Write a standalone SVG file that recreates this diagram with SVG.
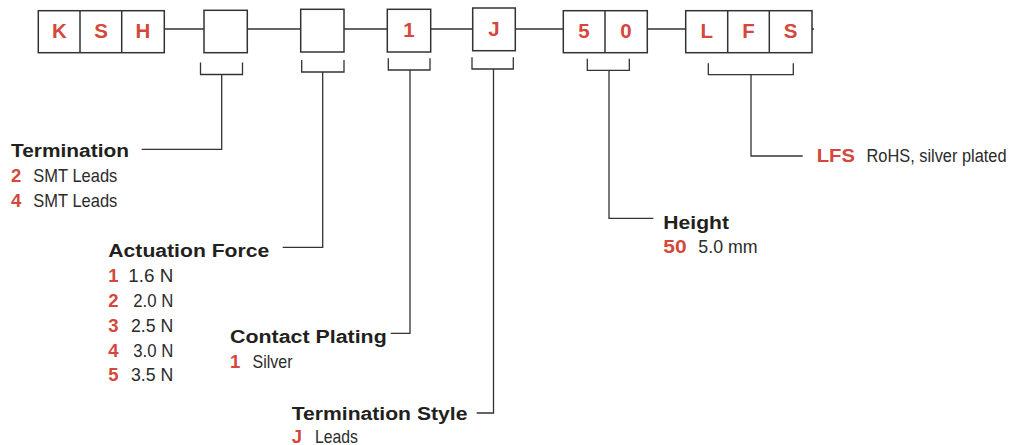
<svg xmlns="http://www.w3.org/2000/svg" width="1010" height="445" viewBox="0 0 1010 445">
<style>
.box{fill:#fff;stroke:#333;stroke-width:1.5}
.div{stroke:#333;stroke-width:1.5}
.ln{fill:none;stroke:#333;stroke-width:1.3}
.cl{font-family:"Liberation Sans",Arial,sans-serif;font-weight:bold;font-size:20.5px;fill:#d4483b;text-anchor:middle}
.h{font-family:"Liberation Sans",Arial,sans-serif;font-weight:bold;font-size:18px;fill:#231f20}
.r{font-family:"Liberation Sans",Arial,sans-serif;font-weight:bold;font-size:18.5px;fill:#d4483b}
.t{font-family:"Liberation Sans",Arial,sans-serif;font-size:19px;fill:#2b2b2b}
</style>
<rect width="1010" height="445" fill="#fff"/>
<g id="connectors">
<path class="ln" d="M164,29H204M247,29H301M344,29H387M431,29H473M515,29H563M647,29H686M812,29H814"/>
<path class="ln" d="M200.5,62.5V74.5H242.5V62.5M221.7,74.5V149.3H141.7"/>
<path class="ln" d="M301.7,60V72H344V60M322.7,72V247.3H282.7"/>
<path class="ln" d="M388.3,58.3V70H430V58.3M410,70V333.3H390.7"/>
<path class="ln" d="M472,57.3V69H513.3V57.3M493.5,69V413H476.7"/>
<path class="ln" d="M587.3,58.7V70.3H629.3V58.7M609,70.3V218.3H653.3"/>
<path class="ln" d="M708.3,63.3V74.7H793.3V63.3M751,74.7V156H802.7"/>
</g>
<g id="box-ksh">
<rect class="box" x="38.3" y="10.7" width="126" height="42"/>
<line class="div" x1="80" y1="10.7" x2="80" y2="52.7"/>
<line class="div" x1="121.7" y1="10.7" x2="121.7" y2="52.7"/>
<text class="cl" x="59.5" y="37.5">K</text>
<text class="cl" x="101" y="37.5">S</text>
<text class="cl" x="143" y="37.5">H</text>
</g>
<g id="box-termination">
<rect class="box" x="204" y="10.3" width="43.3" height="42.4"/>
</g>
<g id="box-force">
<rect class="box" x="300.7" y="9.3" width="43.3" height="42.7"/>
</g>
<g id="box-plating">
<rect class="box" x="387.3" y="9.3" width="43.4" height="42.7"/>
<text class="cl" x="409" y="37">1</text>
</g>
<g id="box-style">
<rect class="box" x="472.7" y="8" width="42.6" height="42.7"/>
<text class="cl" x="494" y="36">J</text>
</g>
<g id="box-height">
<rect class="box" x="563.3" y="10.7" width="84" height="42"/>
<line class="div" x1="605" y1="10.7" x2="605" y2="52.7"/>
<text class="cl" x="584" y="37.5">5</text>
<text class="cl" x="626" y="37.5">0</text>
</g>
<g id="box-lfs">
<rect class="box" x="685.7" y="10.7" width="126.3" height="42"/>
<line class="div" x1="727.7" y1="10.7" x2="727.7" y2="52.7"/>
<line class="div" x1="769.3" y1="10.7" x2="769.3" y2="52.7"/>
<text class="cl" x="706.7" y="37.5">L</text>
<text class="cl" x="748.5" y="37.5">F</text>
<text class="cl" x="790.7" y="37.5">S</text>
</g>
<g id="label-termination">
<text class="h" x="11" y="157.3" textLength="118" lengthAdjust="spacingAndGlyphs">Termination</text>
<text class="r" x="11" y="182.2">2</text><text class="t" x="33.3" y="182.2" textLength="84" lengthAdjust="spacingAndGlyphs">SMT Leads</text>
<text class="r" x="11" y="207">4</text><text class="t" x="33.3" y="207" textLength="84" lengthAdjust="spacingAndGlyphs">SMT Leads</text>
</g>
<g id="label-force">
<text class="h" x="108.3" y="256.7" textLength="161" lengthAdjust="spacingAndGlyphs">Actuation Force</text>
<text class="r" x="108.3" y="281.7">1</text><text class="t" x="128.3" y="281.7" textLength="45" lengthAdjust="spacingAndGlyphs">1.6 N</text>
<text class="r" x="108.3" y="306.7">2</text><text class="t" x="133.3" y="306.7" textLength="40" lengthAdjust="spacingAndGlyphs">2.0 N</text>
<text class="r" x="108.3" y="331.7">3</text><text class="t" x="131" y="331.7" textLength="42.3" lengthAdjust="spacingAndGlyphs">2.5 N</text>
<text class="r" x="108.3" y="356.7">4</text><text class="t" x="133.3" y="356.7" textLength="40" lengthAdjust="spacingAndGlyphs">3.0 N</text>
<text class="r" x="108.3" y="380.7">5</text><text class="t" x="131" y="380.7" textLength="42.3" lengthAdjust="spacingAndGlyphs">3.5 N</text>
</g>
<g id="label-plating">
<text class="h" x="230" y="343.3" textLength="156.7" lengthAdjust="spacingAndGlyphs">Contact Plating</text>
<text class="r" x="230" y="368.3">1</text><text class="t" x="252.5" y="368.3" textLength="40" lengthAdjust="spacingAndGlyphs">Silver</text>
</g>
<g id="label-style">
<text class="h" x="291.7" y="419.5" textLength="175.7" lengthAdjust="spacingAndGlyphs">Termination Style</text>
<text class="r" x="291.7" y="443">J</text><text class="t" x="315" y="443" textLength="43" lengthAdjust="spacingAndGlyphs">Leads</text>
</g>
<g id="label-height">
<text class="h" x="663.3" y="229" textLength="65.7" lengthAdjust="spacingAndGlyphs">Height</text>
<text class="r" x="663.3" y="253.3" textLength="23.3" lengthAdjust="spacingAndGlyphs">50</text><text class="t" x="698.3" y="253.3" textLength="59.3" lengthAdjust="spacingAndGlyphs">5.0 mm</text>
</g>
<g id="label-lfs">
<text class="r" x="816.7" y="161.7" textLength="38.3" lengthAdjust="spacingAndGlyphs">LFS</text><text class="t" transform="translate(866.5,161.7) scale(0.862,1)" x="0" y="0">RoHS, silver plated</text>
</g>
</svg>
